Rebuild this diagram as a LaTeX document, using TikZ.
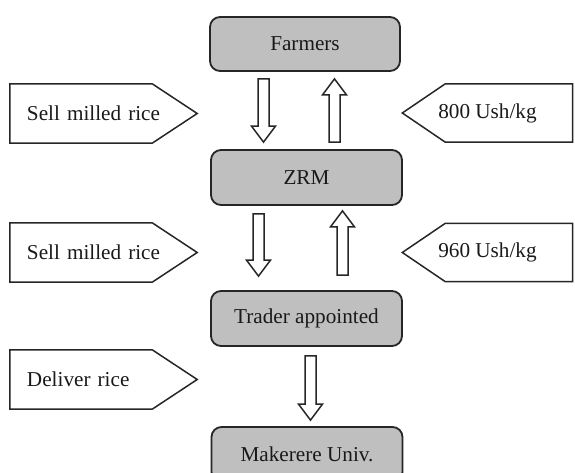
\documentclass[tikz,border=0pt]{standalone}
\usepackage{fontspec}
\setmainfont{Liberation Serif}
\usetikzlibrary{calc}
\tikzset{every node/.append style={execute at begin node={\hyphenpenalty=10000\exhyphenpenalty=10000\relax}}}

\begin{document}
\begin{tikzpicture}[x=1pt, y=1pt, font=\fontsize{21.2}{26}\selectfont, text=black!90,
  actor/.style={draw=black!85, fill=black!25, rounded corners=10pt, line width=1.8pt,
                minimum width=191pt, minimum height=55pt, inner sep=0pt},
  tagL/.style={text width=153pt, inner xsep=17pt, inner ysep=0pt, minimum height=59pt, align=left},
  tagR/.style={minimum width=170pt, minimum height=58pt, inner sep=0pt},
  outline/.style={draw=black!85, line width=1.5pt, line join=miter},
  flow/.style={outline, fill=white, to path={let \p1=(\tikztostart), \p2=(\tikztotarget),
      \n1={ifthenelse(\y2>\y1,1,-1)} in
      (\x1-5.5pt,\y1) -- (\x1+5.5pt,\y1) -- (\x1+5.5pt,\y2-\n1*16pt) -- (\x1+12pt,\y2-\n1*16pt)
      -- (\x1,\y2) -- (\x1-12pt,\y2-\n1*16pt) -- (\x1-5.5pt,\y2-\n1*16pt) -- cycle}}]
  \useasboundingbox (0,0) rectangle (575,473);
  % chain of actors
  \node[actor, minimum width=190pt, minimum height=54pt] (farmers) at (305,429) {Farmers};
  \node[actor] (zrm) at (306.5,295.5) {ZRM};
  \node[actor] (trader) at (306.5,154.5) {Trader appointed};
  \node[actor] (makerere) at (307,18.5) {Makerere Univ.};
  % side tags
  \node[tagL] (sell1) at (103.5,359.5) {Sell milled rice};
  \node[tagL] (sell2) at (103.5,220.5) {Sell milled rice};
  \node[tagL] (deliver) at (103.5,93.5) {Deliver rice};
  \node[tagR] (price1) at (487.5,360) {800 Ush/kg};
  \node[tagR] (price2) at (487.5,220.5) {960 Ush/kg};
  \foreach \n in {sell1,sell2,deliver}
    \draw[outline] (\n.north west) -- ([xshift=-45pt]\n.north east) -- (\n.east)
      -- ([xshift=-45pt]\n.south east) -- (\n.south west) -- cycle;
  \foreach \n in {price1,price2}
    \draw[outline] (\n.north east) -- ([xshift=43pt]\n.north west) -- (\n.west)
      -- ([xshift=43pt]\n.south west) -- (\n.south east) -- cycle;
  % block arrows
  \draw[flow] ($(farmers.south)+(-41.5,-7)$) to ($(zrm.north)+(-43,7)$);
  \draw[flow] ($(zrm.north)+(28,7)$) to ($(farmers.south)+(29.5,-7)$);
  \draw[flow] ($(zrm.south)+(-48,-8)$) to ($(trader.north)+(-48,14)$);
  \draw[flow] ($(trader.north)+(36,15)$) to ($(zrm.south)+(36,-5)$);
  \draw[flow] ($(trader.south)+(4,-9)$) to ($(makerere.north)+(3.5,6)$);
\end{tikzpicture}
\end{document}
